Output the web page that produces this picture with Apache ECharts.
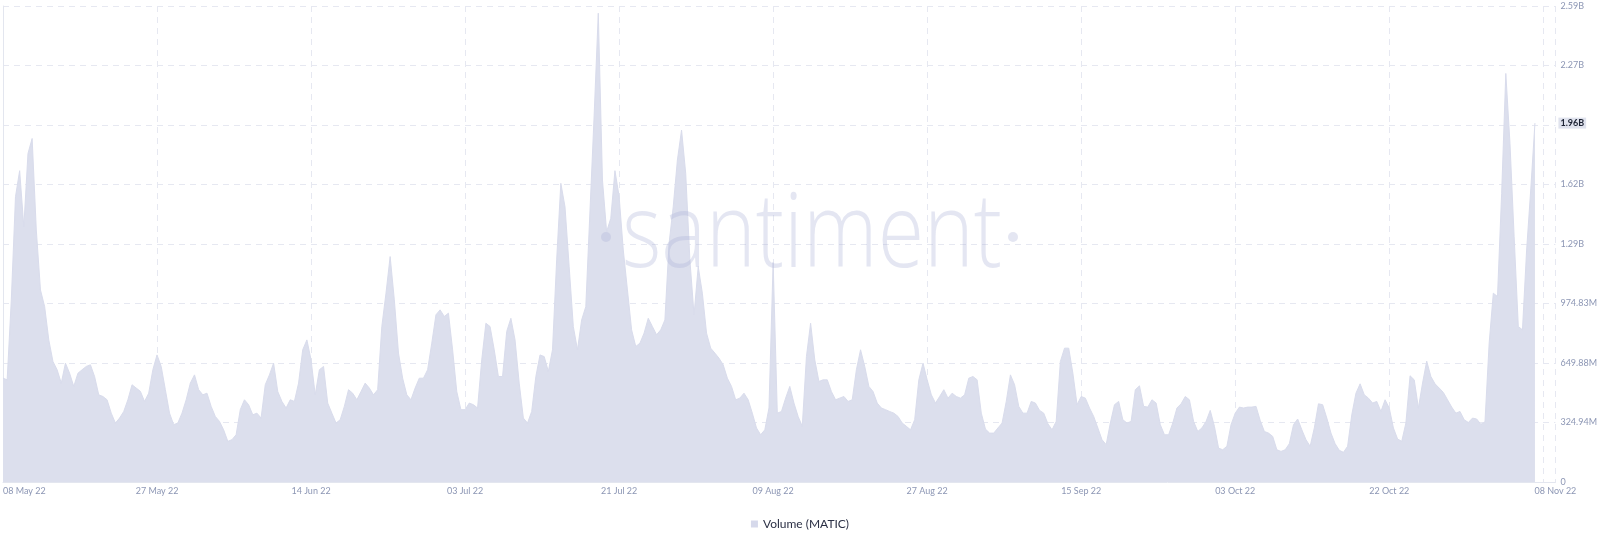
<!DOCTYPE html>
<html>
<head>
<meta charset="utf-8">
<script src="https://cdn.jsdelivr.net/npm/echarts@6/dist/echarts.min.js"></script>
<style>
html,body{margin:0;padding:0;background:#fff;}
#chart{width:1600px;height:541px;}
</style>
</head>
<body>
<div id="chart"></div>
<script>
// Series: Volume (MATIC), millions, one sample every 12 hours from 08 May 22 12:00
const STEP_H = 12;
const TICK_H = 444;          // x tick spacing in hours (18.5 days)
const X_MAX_H = 4475;        // axis end in hours after start
const seriesName = 'Volume (MATIC)';
const tickLabels = ['08 May 22','27 May 22','14 Jun 22','03 Jul 22','21 Jul 22','09 Aug 22','27 Aug 22','15 Sep 22','03 Oct 22','22 Oct 22','08 Nov 22'];
const yInterval = 324.942;
const yMax = 2599.536;

const volumeMay = [567,558,995,1558,1700,1394,1794,1876,1376,1049,
958,776,658,613,540,649,594,522,594,613,
631,640,576,476,467,449,376,322,349,385,
449,531,513,495,440,485,613,694,631,504,
376,313,322,376,449,540,585,504];
const volumeJun = [476,485,413,358,331,285,222,231,258,395,
449,422,367,376,349,531,585,649,494,440,
404,449,440,540,722,776,667,476,613,631,
431,376,322,340,413,504,485,449,494,540,
513,476,504,849,1031,1231,995];
const volumeJul = [704,567,476,449,513,567,567,613,758,913,
940,904,922,722,494,395,395,431,422,404,
667,867,849,722,576,576,822,894,776,540,
349,322,385,576,694,685,604,722,1213,1631,
1503,1176,849,722,885,958,1480];
const volumeAug = [2000,2560,1649,1367,1440,1700,1560,1267,1049,831,
740,758,813,894,849,804,831,885,1303,1503,
1758,1922,1685,1213,913,1176,1031,813,731,704,
676,640,567,522,449,458,485,449,376,295,
258,285,404,1200,376,385];
const volumeSep = [458,522,431,358,304,685,867,667,549,558,
558,494,449,458,467,440,449,613,722,631,
522,494,431,404,395,385,376,358,322,304,
285,340,558,649,558,476,431,467,504,458,
485,467,458,476,567,576,558];
const volumeSep2 = [376,289,267,267,295,322,440,585,531,413,
376,376,440,431,391,376,318,285,331,658,
731,731,594,422,467,458,404,358,295,231,
204,322,422,440,340,322,331,504,525,413,
409,449,431,313,258,258,322];
const volumeOct = [404,427,467,449,331,276,295,331,391,304,
185,176,195,313,376,409,404,409,409,413,
336,276,267,249,176,167,176,209,313,344,
285,231,195,295,427,422,349,267,209,173,
162,195,367,485,536,476];
const volumeNov = [458,431,440,385,449,404,295,235,222,322,
580,558,404,540,660,576,536,513,489,449,
409,376,385,340,325,349,344,315,329,758,
1031,1013,1576,2231,1849,1340,849,831,1267,1600,
1960];

const volume = [].concat(volumeMay, volumeJun, volumeJul, volumeAug, volumeSep, volumeSep2, volumeOct, volumeNov);
const seriesData = volume.map((v, i) => [i * STEP_H, v]);
const lastValue = volume[volume.length - 1];

function fmtVal(v){
  if (v === 0) return '0';
  if (v >= 1000) return (Math.floor(v / 10 + 1e-6) / 100).toFixed(2) + 'B';
  return v.toFixed(2) + 'M';
}

const chart = echarts.init(document.getElementById('chart'), null, {renderer:'canvas'});

// watermark sizing
const wmFont = '300 104px "Open Sans"';
const cv = document.createElement('canvas').getContext('2d');
cv.font = wmFont;
const wmW = cv.measureText('santiment').width || 490;
const wmScale = 380 / wmW;
const wmColor = 'rgba(170,178,214,0.32)';

const labelColor = '#8c96b4';
const gridColor = '#e6e8f1';
const fontFam = 'Lato, "Open Sans", sans-serif';

chart.setOption({
  animation:false,
  backgroundColor:'#ffffff',
  grid:{left:0, right:42, top:6, bottom:59, containLabel:false},
  legend:{
    data:[{name:seriesName, icon:'rect'}],
    left:'center', top:513,
    itemWidth:7, itemHeight:7, itemGap:6,
    textStyle:{color:'#2b3045', fontSize:12, fontFamily:fontFam}
  },
  xAxis:{
    type:'value', min:0, max:X_MAX_H, interval:TICK_H,
    axisLine:{show:true, lineStyle:{color:'#e3e6ef'}},
    axisTick:{show:false},
    splitLine:{show:true, lineStyle:{color:gridColor, type:[6,5], width:1}},
    axisLabel:{
      color:labelColor, fontSize:9, fontFamily:fontFam, margin:5,
      showMinLabel:true, showMaxLabel:true,
      alignMinLabel:'left',
      formatter:function(v){
        if (v >= X_MAX_H - 1) return tickLabels[tickLabels.length - 1];
        return tickLabels[Math.round(v / TICK_H)] || '';
      }
    }
  },
  yAxis:{
    type:'value', position:'right', min:0, max:yMax, interval:yInterval,
    axisLine:{show:true, lineStyle:{color:'#e3e6ef'}},
    axisTick:{show:false},
    splitLine:{show:true, lineStyle:{color:gridColor, type:[6,5], width:1}},
    axisLabel:{color:labelColor, fontSize:9, fontFamily:fontFam, margin:5, formatter:fmtVal}
  },
  series:[{
    name:seriesName, type:'line', data:seriesData,
    showSymbol:false, symbol:'none', sampling:'none',
    lineStyle:{color:'#d9dcec', width:1},
    itemStyle:{color:'#d6d9eb'},
    areaStyle:{color:'#dcdfed', opacity:1},
    markLine:{
      silent:true, symbol:['none','none'], animation:false, precision:2,
      lineStyle:{width:0, color:'rgba(0,0,0,0)', type:'solid'},
      emphasis:{disabled:true},
      data:[{yAxis:lastValue, name:'last'}],
      label:{
        show:true, position:'end', distance:3,
        formatter:function(p){return fmtVal(p.value);},
        backgroundColor:'#e0e3ee', color:'#1c2233', fontSize:9, fontWeight:'bold',
        fontFamily:fontFam, padding:[1,2,1,2], opacity:1
      }
    }
  }],
  graphic:[
    {type:'text', x:622, y:237, scaleX:wmScale, scaleY:1, z:10, silent:true,
     style:{text:'santiment', font:wmFont, fill:wmColor, align:'left', verticalAlign:'middle'}},
    {type:'circle', shape:{cx:606, cy:237, r:5}, z:10, silent:true, style:{fill:wmColor}},
    {type:'circle', shape:{cx:1013, cy:237, r:5}, z:10, silent:true, style:{fill:wmColor}}
  ]
});
</script>
</body>
</html>
